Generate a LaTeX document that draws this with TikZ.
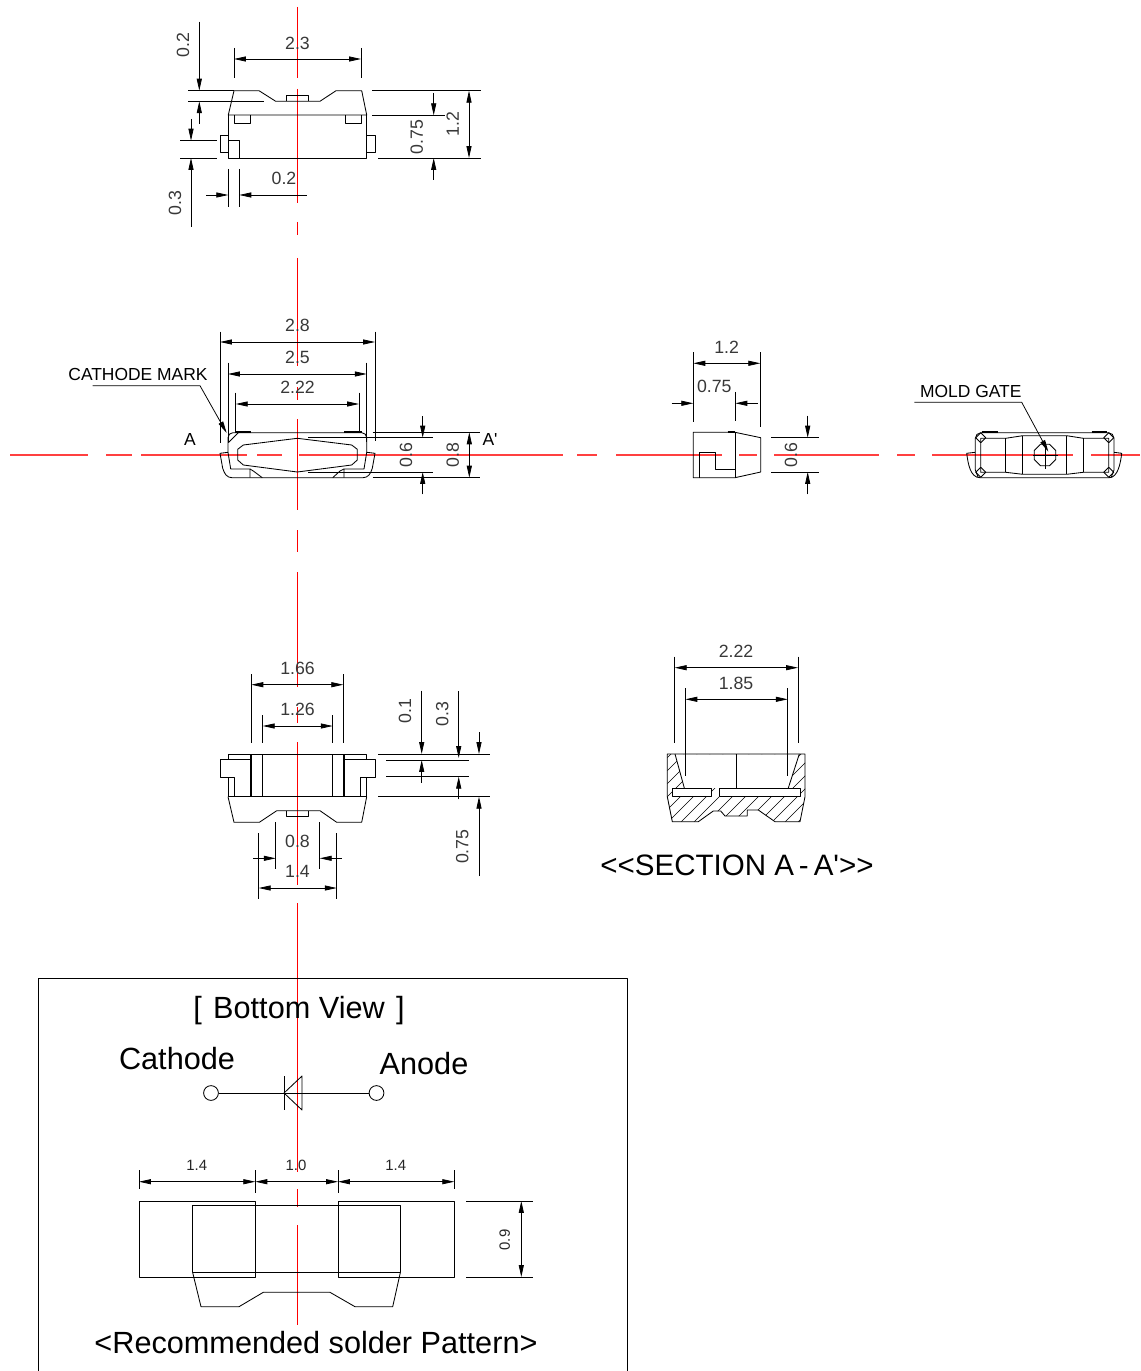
\documentclass[tikz,border=0pt]{standalone}
\usepackage{fontspec}
\setmainfont{Liberation Sans}[Ligatures=TeXOff]
\usetikzlibrary{arrows.meta}
\tikzset{
  part/.style={line width=0.6pt,black},
  dimline/.style={line width=0.55pt,black},
  thickline/.style={line width=1.2pt,black},
  axisline/.style={line width=0.6pt,red},
  axislinewide/.style={line width=0.8pt,red!75},
  hatchline/.style={line width=0.45pt,black},
  dimtext/.style={inner sep=0pt,text=black!78,font=\fontsize{12.6}{14}\selectfont},
  smalltext/.style={inner sep=0pt,text=black!85,font=\fontsize{10.6}{12}\selectfont},
  marktext/.style={inner sep=0pt,font=\fontsize{12.4}{14}\selectfont},
  bigtext/.style={inner sep=0pt,font=\fontsize{21.8}{26}\selectfont},
  titletext/.style={inner sep=0pt,font=\fontsize{21}{26}\selectfont},
}
\begin{document}
\begin{tikzpicture}[line cap=butt,line join=round,>={Triangle[length=8.5pt,width=3.6pt]},x=0.025cm,y=-0.025cm]
\useasboundingbox (0,0) rectangle (1141,1371);
% center lines
\foreach \ya/\yb in {7/78,89/203,222/235,258/366,387/400,419/510,530/552,572/687,707/723,742/885,903/1172,1189/1207,1225/1325}
  \draw [axisline] (297.5,\ya)--(297.5,\yb);
\foreach \xa/\xb in {10/88,106/132,141/247,257/282,299/563,577/597,616/722,739/757,774/879,897/915,932/1073,1091/1140}
  \draw [axislinewide] (\xa,455)--(\xb,455);

% top view
\draw [part] (228.3,115)--(234,90.7)--(259,90.7)--(275.7,101.3)--(320,101.3)--(336,90.7)--(361.7,90.7)--(366.7,115)--cycle;
\draw [part] (228.3,115)--(228.3,158)--(366.7,158)--(366.7,115);
\draw [part] (286.7,101.3)--(286.7,95.7)--(308.3,95.7)--(308.3,101.3);
\draw [part] (234,115)--(234,123.3)--(250.7,123.3)--(250.7,115);
\draw [part] (345,115)--(345,123.3)--(361.7,123.3)--(361.7,115);
\draw [part] (228.3,135.7)--(220,135.7)--(220,152.3)--(228.3,152.3);
\draw [part] (366.7,135.7)--(375,135.7)--(375,152.3)--(366.7,152.3);
\draw [part] (228.3,140.7)--(239.3,140.7)--(239.3,158);
\draw [dimline] (234,48)--(234,78);
\draw [dimline] (361,48)--(361,78);
\draw [dimline,<->] (234,59)--(361,59);
\node (topwidth) [dimtext] at (297.5,43) {2.3};
\draw [dimline] (188,90.7)--(234,90.7);
\draw [dimline] (188,101.3)--(264,101.3);
\draw [dimline,->] (199.3,21.7)--(199.3,90.7);
\draw [dimline,->] (199.3,123.7)--(199.3,101.3);
\node (topstep) [dimtext,rotate=90] at (183,45) {0.2};
\draw [dimline] (372.3,90.7)--(480.7,90.7);
\draw [dimline] (372.3,115.3)--(445,115.3);
\draw [dimline] (378,158)--(480.7,158);
\draw [dimline,->] (433.7,93)--(433.7,115.3);
\draw [dimline,->] (433.7,180)--(433.7,158);
\node (topbody) [dimtext,rotate=90] at (416.7,137) {0.75};
\draw [dimline,<->] (469,90.7)--(469,158);
\node (topheight) [dimtext,rotate=90] at (452.7,124) {1.2};
\draw [dimline] (180,140.7)--(217,140.7);
\draw [dimline] (180,158)--(217,158);
\draw [dimline,->] (191,119)--(191,140.7);
\draw [dimline,->] (191,226.7)--(191,158);
\node (toplead) [dimtext,rotate=90] at (175,203) {0.3};
\draw [dimline] (228.3,169)--(228.3,206.7);
\draw [dimline] (239.3,169)--(239.3,206.7);
\draw [dimline,->] (206,195)--(228.3,195);
\draw [dimline,->] (306.7,195)--(239.3,195);
\node (topmark) [dimtext] at (284,178) {0.2};

% front view
\draw [part,rounded corners=3.5] (228,452.3)--(228,432.7)--(366.7,432.7)--(366.7,452.3);
\draw [thickline] (235,432)--(250.7,432);
\draw [thickline] (344,432)--(361.7,432);
\draw [part] (228.3,442.7)--(238.3,432.7);
\draw [part] (243.3,445)--(297.3,438.3)--(351.7,445)--(357.3,449.3)--(357.3,460)--(351.7,465)--(297.3,472)--(243.3,465)--(237.7,460)--(237.7,449.3)--cycle;
\draw [part] (228,452.3)--(220,453.3)--(222.7,468.3) .. controls (224.5,474) and (227,477.7) .. (232,477.7)--(363,477.7) .. controls (368,477.7) and (370.5,474) .. (372.3,468.3)--(375,453.3)--(366.7,452.3);
\draw [part] (228,452.3)--(230.7,469)--(250,469)--(250,477.7);
\draw [part] (250,469)--(253.3,471)--(262.3,477.7);
\draw [part] (366.7,452.3)--(364,469)--(344,469)--(344,477.7);
\draw [part] (344,469)--(340,471)--(332.7,477.7);
\draw [dimline] (220,331.7)--(220,443);
\draw [dimline] (375,331.7)--(375,441);
\draw [dimline,<->] (220,342)--(375,342);
\node (frontlong) [dimtext] at (297.5,325) {2.8};
\draw [dimline] (228,362.7)--(228,442);
\draw [dimline] (366.7,362.7)--(366.7,442);
\draw [dimline,<->] (228,374)--(366.7,374);
\node (frontbody) [dimtext] at (297.5,357) {2.5};
\draw [dimline] (235.7,392.7)--(235.7,432);
\draw [dimline] (359,392.7)--(359,432);
\draw [dimline,<->] (235.7,404)--(359,404);
\node (frontinner) [dimtext] at (297.5,387) {2.22};
\node (cathodemark) [marktext] at (138,374.7) {CATHODE MARK};
\draw [dimline,->] (92.7,385.7)--(200,385.7)--(226.7,433);
\node (secleft) [marktext] at (190,440) {A};
\node (secright) [marktext] at (490,440) {A'};
\draw [dimline] (372.7,432.3)--(480,432.3);
\draw [dimline] (372.7,477.7)--(480,477.7);
\draw [dimline] (308.3,437.7)--(433.3,437.7);
\draw [dimline] (308.3,472)--(433.3,472);
\draw [dimline,->] (422.7,416)--(422.7,437.7);
\draw [dimline,->] (422.7,494.3)--(422.7,472);
\node (frontgap) [dimtext,rotate=90] at (406,455) {0.6};
\draw [dimline,<->] (469.3,432.3)--(469.3,477.7);
\node (frontheight) [dimtext,rotate=90] at (452.7,455) {0.8};

% side view
\draw [part] (693.3,432.3)--(735,432.3)--(760.7,437.7)--(760.7,472)--(735,477.7)--(693.3,477.7)--cycle;
\draw [part] (735,432.3)--(735,477.7);
\draw [thickline] (727.7,432)--(735,432);
\draw [part] (699.3,477.7)--(699.3,452.3)--(715.7,452.3)--(715.7,469)--(735,469);
\draw [dimline] (693.3,352.3)--(693.3,421.7);
\draw [dimline] (760.3,352.3)--(760.3,426.7);
\draw [dimline,<->] (693.3,363.3)--(760.3,363.3);
\node (sidewidth) [dimtext] at (726.7,347.3) {1.2};
\draw [dimline] (735.3,392)--(735.3,421);
\draw [dimline,->] (671.7,403.3)--(693.3,403.3);
\draw [dimline,->] (757.7,403.3)--(735.3,403.3);
\node (sidebody) [dimtext] at (714.3,386.7) {0.75};
\draw [dimline] (771,437.7)--(819,437.7);
\draw [dimline] (771,472)--(819,472);
\draw [dimline,->] (807.7,415.7)--(807.7,437.7);
\draw [dimline,->] (807.7,494.3)--(807.7,472);
\node (sideheight) [dimtext,rotate=90] at (791,455) {0.6};

% back view
\draw [part,rounded corners=4] (975.3,452.3)--(975.3,432.7)--(1114,432.7)--(1114,452.3);
\draw [thickline] (981.7,432)--(997.7,432);
\draw [thickline] (1091.7,432)--(1107.3,432);
\draw [part] (975.3,452.3)--(966.7,453.3) .. controls (968,463) and (970,477.7) .. (980,477.7)--(1109,477.7) .. controls (1118,477.7) and (1120.5,463) .. (1121.7,453.3)--(1114,452.3);
\draw [part] (975.3,452.3)--(975.3,470)--(978.3,477.7);
\draw [part] (1114,452.3)--(1114,470)--(1111,477.7);
\draw [part] (980.7,438.3)--(1005.7,438.3)--(1022.7,435.7)--(1066.7,435.7)--(1083.3,438.3)--(1108.7,438.3)--(1108.7,472.3)--(1083.3,472.3)--(1066.7,474.3)--(1022.7,474.3)--(1005.7,472.3)--(980.7,472.3)--cycle;
\foreach \xb in {1005.7,1083.3}
  \draw [part] (\xb,438.3)--(\xb,472.3);
\foreach \xb in {1022.7,1066.7}
  \draw [part] (\xb,435.7)--(\xb,474.3);
\foreach \xb/\yb in {980.7/437.7,1108.7/437.7,980.7/472.3,1108.7/472.3}
  \draw [part] (\xb-5,\yb)--(\xb,\yb-5)--(\xb+5,\yb)--(\xb,\yb+5)--cycle;
\draw [part] (1040.5,444.2)--(1049.5,444.2)--(1055.8,450.5)--(1055.8,459.5)--(1049.5,465.8)--(1040.5,465.8)--(1034.2,459.5)--(1034.2,450.5)--cycle;
\draw [part] (1045,441.7)--(1045,469.3);
\draw [part] (1033,455)--(1058,455);
\node (moldgate) [marktext] at (970.8,391) {MOLD GATE};
\draw [dimline,->] (914.3,402.3)--(1021.7,402.3)--(1048.3,451.7);

% bottom view
\draw [part] (220,759.7)--(251,759.7);
\draw [part] (228,759.7)--(228,754.3)--(366.7,754.3)--(366.7,759.7);
\draw [part] (220,759.7)--(220,777)--(234,777)--(234,796.7);
\draw [part] (228,777)--(228,796.7);
\draw [part] (343.7,759.7)--(375.3,759.7)--(375.3,777)--(360.7,777)--(360.7,796.7);
\draw [part] (366.7,777)--(366.7,796.7);
\draw [thickline] (251,754.3)--(251,796.7);
\draw [thickline] (343.7,754.3)--(343.7,796.7);
\draw [part] (262.3,754.3)--(262.3,796.7);
\draw [part] (332.3,754.3)--(332.3,796.7);
\draw [part] (228,796.7)--(366.7,796.7);
\draw [part] (228,796.7)--(234,822.3)--(259.3,822.3)--(276.7,810.7)--(320,810.7)--(336.7,822.3)--(361.7,822.3)--(366.7,796.7);
\draw [part] (286.7,810.7)--(286.7,816.3)--(308.7,816.3)--(308.7,810.7);
\draw [dimline] (251.3,674)--(251.3,742.7);
\draw [dimline] (343.3,674)--(343.3,742.7);
\draw [dimline,<->] (251.3,684.7)--(343.3,684.7);
\node (bottomlong) [dimtext] at (297.5,668.3) {1.66};
\draw [dimline] (262.7,715)--(262.7,742.7);
\draw [dimline] (332.7,715)--(332.7,742.7);
\draw [dimline,<->] (262.7,726)--(332.7,726);
\node (bottomshort) [dimtext] at (297.5,709.3) {1.26};
\draw [dimline] (275.7,822.3)--(275.7,869.3);
\draw [dimline] (319.7,822.3)--(319.7,869.3);
\draw [dimline,->] (253.3,858.3)--(275.7,858.3);
\draw [dimline,->] (341.7,858.3)--(319.7,858.3);
\node (bottomtab) [dimtext] at (297.5,841.7) {0.8};
\draw [dimline] (258.7,833.3)--(258.7,899.3);
\draw [dimline] (336.7,833.3)--(336.7,899.3);
\draw [dimline,<->] (258.7,888)--(336.7,888);
\node (bottomflat) [dimtext] at (297.5,871.7) {1.4};
\draw [dimline] (378.3,754)--(490,754);
\draw [dimline] (386,760)--(469.3,760);
\draw [dimline] (386,776.7)--(469.3,776.7);
\draw [dimline] (378.3,796.7)--(490,796.7);
\draw [dimline,->] (421.7,690.7)--(421.7,754);
\draw [dimline,->] (421.7,782.7)--(421.7,760);
\node (bottomrim) [dimtext,rotate=90] at (405,711) {0.1};
\draw [dimline,->] (458.7,691.3)--(458.7,758);
\draw [dimline,->] (458.7,799.3)--(458.7,776.7);
\node (bottomlead) [dimtext,rotate=90] at (442.3,714) {0.3};
\draw [dimline,->] (479,732)--(479,754);
\draw [dimline,->] (479,876)--(479,796.7);
\node (bottombody) [dimtext,rotate=90] at (462.3,846.7) {0.75};

% section
\begin{scope}[even odd rule]
\clip (667.3,754)--(805,754)--(805,796.7)--(800,821.7)--(775,821.7)--(758.3,810)--(747.3,810)--(747.3,816)--(725,816)--(720.7,811)--(713.3,811)--(698.3,821.7)--(672.3,821.7)--(667.3,796.7)--cycle
  (675,754)--(799.3,754)--(788.3,788)--(684.3,788)--cycle
  (672.7,788)--(711.7,788)--(711.7,796.7)--(672.7,796.7)--cycle
  (719.3,788)--(800,788)--(800,796.7)--(719.3,796.7)--cycle;
\foreach \c in {1425,1438,...,1635}
  \draw [hatchline] ({\c-745},745)--({\c-830},830);
\end{scope}
\draw [part] (667.3,754)--(805,754)--(805,796.7)--(800,821.7)--(775,821.7)--(758.3,810)--(747.3,810)--(747.3,816)--(725,816)--(720.7,811)--(713.3,811)--(698.3,821.7)--(672.3,821.7)--(667.3,796.7)--cycle;
\draw [part] (675,754)--(684.3,788);
\draw [part] (799.3,754)--(788.3,788);
\draw [part] (736.3,754)--(736.3,788);
\draw [part] (672.7,788) rectangle (711.7,796.7);
\draw [part] (719.3,788) rectangle (800,796.7);
\draw [dimline] (674.7,656.7)--(674.7,742.7);
\draw [dimline] (798,656.7)--(798,742.7);
\draw [dimline,<->] (674.7,667.7)--(798,667.7);
\node (seclong) [dimtext] at (736,651.7) {2.22};
\draw [dimline] (685.3,688.3)--(685.3,776);
\draw [dimline] (787.7,688.3)--(787.7,776);
\draw [dimline,<->] (685.3,699.3)--(787.7,699.3);
\node (secshort) [dimtext] at (736,683.3) {1.85};
\node (sectitle) [titletext] at (737,865) {<{}<SECTION A\,-\,A'>{}>};

% box with solder pattern
\draw [part] (38,1371)--(38,978)--(627,978)--(627,1371);
\node (viewtitle) [bigtext] at (299,1011) {[\kern2pt{} Bottom View\kern2pt{} ]};
\node (cathodelabel) [bigtext] at (177,1059) {Cathode};
\node (anodelabel) [bigtext] at (424,1064) {Anode};
\node (cathodepin) [draw,circle,line width=0.6pt,inner sep=0pt,minimum size=10.5pt] at (211,1093) {};
\node (anodepin) [draw,circle,line width=0.6pt,inner sep=0pt,minimum size=10.5pt] at (376.5,1093) {};
\draw [part] (cathodepin)--(anodepin);
\draw [part] (284,1076)--(284,1110);
\draw [part] (284,1093)--(302,1110)--(302,1076)--cycle;
\draw [dimline] (139,1170)--(139,1189);
\draw [dimline] (255.3,1170)--(255.3,1193);
\draw [dimline] (338,1170)--(338,1193);
\draw [dimline] (454.3,1170)--(454.3,1189);
\draw [dimline,<->] (139,1181.7)--(255.3,1181.7);
\draw [dimline,<->] (255.3,1181.7)--(338,1181.7);
\draw [dimline,<->] (338,1181.7)--(454.3,1181.7);
\node (padleft) [smalltext] at (196.7,1165) {1.4};
\node (padgap) [smalltext] at (296,1165) {1.0};
\node (padright) [smalltext] at (395.7,1165) {1.4};
\draw [part] (139,1201) rectangle (255.3,1277);
\draw [part] (338,1201) rectangle (454.3,1277);
\draw [part] (192.7,1205.3) rectangle (400.3,1272.7);
\draw [part] (192.7,1272.7)--(201,1306.7)--(239,1306.7)--(263.3,1292.3)--(330,1292.3)--(355,1306.7)--(392.7,1306.7)--(400.3,1272.7);
\draw [dimline] (466,1201)--(532.7,1201);
\draw [dimline] (466,1277)--(532.7,1277);
\draw [dimline,<->] (521.3,1201)--(521.3,1277);
\node (padheight) [smalltext,rotate=90] at (504.7,1240) {0.9};
\node (solderlabel) [bigtext] at (316,1343) {<Recommended solder Pattern>};
\end{tikzpicture}
\end{document}
